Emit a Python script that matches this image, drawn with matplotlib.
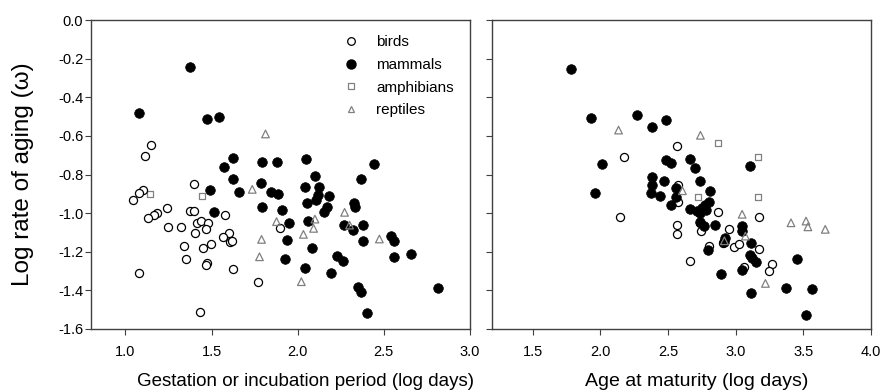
import matplotlib
matplotlib.use("Agg")
import matplotlib.pyplot as plt
from matplotlib.lines import Line2D

plt.rcParams['font.family'] = ['Liberation Sans', 'DejaVu Sans']

# ---------------- Left panel: gestation / incubation period ----------------
gest_birds_x = [1.146, 1.112, 1.102, 1.077, 1.042, 1.397, 1.241, 1.183, 1.164, 1.129,
                1.372, 1.395, 1.578, 1.247, 1.322, 1.414, 1.439, 1.482, 1.405, 1.468,
                1.601, 1.565, 1.607, 1.620, 1.341, 1.499, 1.453, 1.353, 1.476, 1.466,
                1.626, 1.077, 1.769, 1.430, 1.896]
gest_birds_y = [-0.647, -0.704, -0.880, -0.898, -0.932, -0.849, -0.975, -1.001, -1.010, -1.027,
                -0.987, -0.987, -1.012, -1.074, -1.070, -1.053, -1.039, -1.050, -1.101, -1.084,
                -1.101, -1.125, -1.148, -1.143, -1.169, -1.160, -1.181, -1.238, -1.260, -1.270,
                -1.288, -1.312, -1.358, -1.511, -1.079]

gest_mammals_x = [1.372, 1.079, 1.476, 1.543, 1.622, 1.574, 1.626, 1.661, 1.491, 1.516,
                  1.794, 1.879, 2.046, 2.445, 2.098, 2.368, 1.784, 1.842, 1.883, 2.044,
                  2.121, 2.117, 2.108, 2.179, 2.056, 1.790, 1.906, 2.169, 2.150, 2.329,
                  2.333, 1.948, 2.060, 2.268, 2.320, 2.378, 1.935, 2.378, 2.542, 2.561,
                  2.081, 1.927, 2.229, 2.264, 2.561, 2.657, 2.040, 2.195, 2.349, 2.368,
                  2.815, 2.401]
gest_mammals_y = [-0.245, -0.483, -0.511, -0.502, -0.713, -0.760, -0.823, -0.889, -0.880, -0.994,
                  -0.734, -0.737, -0.722, -0.746, -0.808, -0.825, -0.846, -0.892, -0.901, -0.863,
                  -0.866, -0.906, -0.932, -0.911, -0.949, -0.967, -0.984, -0.970, -0.993, -0.946,
                  -0.970, -1.053, -1.039, -1.060, -1.088, -1.062, -1.139, -1.144, -1.119, -1.143,
                  -1.182, -1.236, -1.222, -1.246, -1.229, -1.213, -1.286, -1.312, -1.381, -1.410,
                  -1.386, -1.519]

gest_amph_x = [1.141, 1.447]
gest_amph_y = [-0.903, -0.910]

gest_rept_x = [1.736, 1.813, 1.877, 1.790, 1.778, 2.100, 2.092, 2.033, 2.021, 2.272, 2.301, 2.474]
gest_rept_y = [-0.877, -0.590, -1.044, -1.136, -1.226, -1.031, -1.079, -1.110, -1.355, -0.996, -1.062, -1.134]

# ---------------- Right panel: age at maturity ----------------
mat_birds_x = [2.174, 2.149, 2.568, 2.575, 2.572, 2.868, 2.740, 2.747, 2.568, 2.568,
               2.954, 3.173, 2.907, 2.986, 3.022, 3.173, 2.804, 2.666, 3.059, 3.269, 3.249]
mat_birds_y = [-0.711, -1.018, -0.653, -0.854, -0.941, -0.993, -1.050, -1.093, -1.062, -1.108,
               -1.082, -1.018, -1.153, -1.174, -1.160, -1.188, -1.169, -1.247, -1.277, -1.265, -1.298]

mat_mammals_x = [1.786, 1.928, 2.268, 2.383, 2.482, 2.014, 2.489, 2.526, 2.383, 2.469,
                 2.383, 2.371, 1.958, 2.440, 2.661, 2.703, 2.740, 3.109, 2.563, 2.563,
                 2.526, 2.814, 2.801, 2.777, 2.752, 2.740, 2.716, 2.661, 2.784, 2.740,
                 2.764, 2.851, 3.048, 3.048, 2.924, 2.912, 3.114, 2.799, 3.109, 3.121,
                 3.153, 3.048, 2.895, 3.114, 3.453, 3.375, 3.564, 3.520]
mat_mammals_y = [-0.254, -0.509, -0.492, -0.556, -0.518, -0.747, -0.725, -0.742, -0.811, -0.832,
                 -0.854, -0.897, -0.897, -0.911, -0.721, -0.768, -0.834, -0.754, -0.872, -0.918,
                 -0.958, -0.886, -0.941, -0.958, -0.975, -1.001, -0.988, -0.980, -0.984, -1.044,
                 -1.067, -1.062, -1.067, -1.093, -1.131, -1.148, -1.153, -1.191, -1.217, -1.234,
                 -1.252, -1.295, -1.317, -1.415, -1.238, -1.390, -1.393, -1.528]

mat_amph_x = [2.868, 3.168, 2.720, 3.168]
mat_amph_y = [-0.635, -0.708, -0.915, -0.915]

mat_rept_x = [2.135, 2.740, 2.607, 3.048, 3.072, 2.917, 3.220, 3.409, 3.520, 3.534, 3.662]
mat_rept_y = [-0.570, -0.597, -0.884, -1.006, -1.119, -1.143, -1.364, -1.050, -1.041, -1.071, -1.084]

left_xticks = [1.0, 1.5, 2.0, 2.5, 3.0]
right_xticks = [1.5, 2.0, 2.5, 3.0, 3.5, 4.0]
yticks = [0.0, -0.2, -0.4, -0.6, -0.8, -1.0, -1.2, -1.4, -1.6]

GRAY = '#808080'
SPINE = '#404040'

fig = plt.figure(figsize=(8.84, 3.92), dpi=100)
axL = fig.add_axes([91/884, 1-329/392, (470-91)/884, 309/392])
axR = fig.add_axes([492/884, 1-329/392, (871-492)/884, 309/392])


def draw(ax, bx, by, mx, my, ax_, ay_, rx, ry):
    ax.scatter(bx, by, s=34, facecolors='white', edgecolors='black', linewidths=0.9, zorder=3)
    ax.scatter(mx, my, s=48, facecolors='black', edgecolors='black', linewidths=0.5, zorder=4)
    ax.scatter(ax_, ay_, s=22, marker='s', facecolors='white', edgecolors=GRAY, linewidths=0.9, zorder=2)
    ax.scatter(rx, ry, s=30, marker='^', facecolors='none', edgecolors=GRAY, linewidths=0.9, zorder=5)


draw(axL, gest_birds_x, gest_birds_y, gest_mammals_x, gest_mammals_y,
     gest_amph_x, gest_amph_y, gest_rept_x, gest_rept_y)
draw(axR, mat_birds_x, mat_birds_y, mat_mammals_x, mat_mammals_y,
     mat_amph_x, mat_amph_y, mat_rept_x, mat_rept_y)

for ax in (axL, axR):
    ax.set_ylim(-1.6, 0.0)
    ax.set_yticks(yticks)
    for sp in ax.spines.values():
        sp.set_color(SPINE)
        sp.set_linewidth(1.0)
    ax.tick_params(direction='out', length=4, width=0.8, color=SPINE, labelsize=10.5)
    ax.tick_params(axis='y', pad=1.5)
    ax.tick_params(axis='x', pad=7.5)

axL.set_xlim(0.8, 3.0)
axL.set_xticks(left_xticks)
axL.set_xticklabels([f"{v:.1f}" for v in left_xticks])
axL.set_yticklabels([f"{v:.1f}" if v != 0 else "0.0" for v in yticks])
axR.set_xlim(1.2, 4.0)
axR.set_xticks(right_xticks)
axR.set_xticklabels([f"{v:.1f}" for v in right_xticks])
axR.tick_params(labelleft=False)

axL.set_xlabel("Gestation or incubation period (log days)", fontsize=13.5, va='top')
axR.set_xlabel("Age at maturity (log days)", fontsize=14, va='top')
axL.xaxis.set_label_coords(0.565, -0.142)
axR.xaxis.set_label_coords(0.541, -0.142)
axL.set_ylabel("Log rate of aging (\u03c9)", fontsize=17.5)
axL.yaxis.set_label_coords(-0.15, 0.5)

handles = [
    Line2D([], [], linestyle='none', marker='o', markersize=5.5, markerfacecolor='white',
           markeredgecolor='black', markeredgewidth=0.9),
    Line2D([], [], linestyle='none', marker='o', markersize=6.5, markerfacecolor='black',
           markeredgecolor='black'),
    Line2D([], [], linestyle='none', marker='s', markersize=4.5, markerfacecolor='white',
           markeredgecolor=GRAY, markeredgewidth=0.9),
    Line2D([], [], linestyle='none', marker='^', markersize=5, markerfacecolor='none',
           markeredgecolor=GRAY, markeredgewidth=0.9),
]
axL.legend(handles, ['birds', 'mammals', 'amphibians', 'reptiles'], loc='upper left',
           bbox_to_anchor=(0.667, 0.95), frameon=False, fontsize=11,
           handlelength=1.0, handletextpad=1.1, labelspacing=0.56, borderpad=0,
           borderaxespad=0)

fig.savefig('out.png', dpi=100)
